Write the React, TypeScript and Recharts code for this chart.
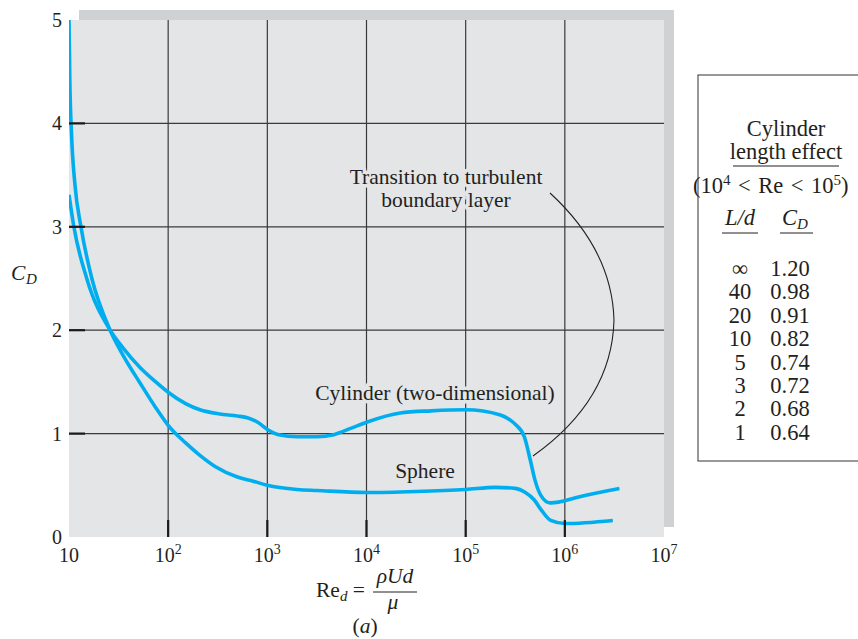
import React from 'react';
import { LineChart, Line, XAxis, YAxis, CartesianGrid, ReferenceLine } from 'recharts';

// ---- data (Re_d, C_D) ----
const sphereRe = [10, 10.2, 10.6, 11.5, 13.2, 17, 26, 35, 52, 75, 100, 150, 209, 300, 500, 720, 1000, 2000, 3160, 10000, 31600, 100000, 200000, 316000, 400000, 490000, 580000, 720000, 1000000, 3050000];
const sphereCd = [5.0, 4.4, 3.9, 3.4, 3.0, 2.5, 2.0, 1.76, 1.49, 1.25, 1.08, 0.91, 0.79, 0.68, 0.58, 0.54, 0.5, 0.46, 0.45, 0.43, 0.44, 0.46, 0.48, 0.47, 0.43, 0.36, 0.26, 0.16, 0.13, 0.16];

const cylRe = [10, 11.2, 15.1, 26, 35, 52, 75, 100, 150, 209, 331, 500, 640, 800, 1000, 1300, 2000, 3160, 4680, 6920, 10000, 21900, 44700, 100000, 224000, 282000, 316000, 390000, 447000, 500000, 575000, 708000, 890000, 1410000, 3550000];
const cylCd = [3.31, 3.0, 2.5, 2.0, 1.83, 1.64, 1.5, 1.4, 1.29, 1.23, 1.19, 1.17, 1.15, 1.11, 1.04, 0.99, 0.97, 0.97, 0.99, 1.05, 1.11, 1.2, 1.22, 1.23, 1.18, 1.13, 1.09, 0.97, 0.75, 0.55, 0.4, 0.33, 0.34, 0.39, 0.47];

const xTicks = [10, 100, 1000, 10000, 100000, 1000000, 10000000];
const yTicks = [0, 1, 2, 3, 4, 5];
const xGrid = [100, 1000, 10000, 100000, 1000000];
const yGrid = [1, 2, 3, 4];

const tableLd = ['∞', '40', '20', '10', '5', '3', '2', '1'];
const tableCd = ['1.20', '0.98', '0.91', '0.82', '0.74', '0.72', '0.68', '0.64'];

const sphereData = sphereRe.map((re, i) => ({ re, cd: sphereCd[i] }));
const cylData = cylRe.map((re, i) => ({ re, cd: cylCd[i] }));

const SERIF = '"Liberation Serif", "DejaVu Serif", serif';
const INK = '#231f20';
const BG = '#e4e5e7';
const CURVE = '#00aeef';

const XTick = (props: any) => {
  const { x, y, payload } = props;
  const v = payload.value as number;
  const exp = Math.round(Math.log10(v));
  const inner = v > 10 && v < 10000000;
  return (
    <g>
      {inner && <line x1={x} x2={x} y1={y} y2={y - 17} stroke="#1a1a1a" strokeWidth={2.2} />}
      <text x={x} y={y + 25} textAnchor="middle" fontFamily={SERIF} fontSize={20} fill={INK}>
        <tspan>10</tspan>
        {exp > 1 && <tspan dy={-8} fontSize={14}>{String(exp)}</tspan>}
      </text>
    </g>
  );
};

const YTick = (props: any) => {
  const { x, y, payload } = props;
  const v = payload.value as number;
  const inner = v > 0 && v < 5;
  return (
    <g>
      {inner && <line x1={x} x2={x + 16} y1={y} y2={y} stroke="#1a1a1a" strokeWidth={2.2} />}
      <text x={x - 7} y={y + 7} textAnchor="end" fontFamily={SERIF} fontSize={20} fill={INK}>
        {String(v)}
      </text>
    </g>
  );
};

const halo = { stroke: BG, strokeWidth: 7, paintOrder: 'stroke' as any, strokeLinejoin: 'round' as any };

const ROW0 = 276;
const ROWSTEP = 23.4;
const SP = '\u2004';

export default function App() {
  return (
    <div style={{ position: 'absolute', left: 0, top: 0, width: 858, height: 639, background: '#fff', overflow: 'hidden' }}>
      <div style={{ position: 'absolute', left: 79, top: 10, width: 595, height: 517, background: '#d0d1d3' }} />
      <div style={{ position: 'absolute', left: 0, top: 0 }}>
        <LineChart width={858} height={639} margin={{ top: 20, right: 194, bottom: 72, left: 9 }}>
          <CartesianGrid fill={BG} vertical={false} horizontal={false} stroke="none" />
          <XAxis
            type="number"
            dataKey="re"
            scale="log"
            domain={[10, 10000000]}
            ticks={xTicks}
            allowDataOverflow
            height={30}
            tickSize={0}
            tickMargin={0}
            axisLine={false}
            tickLine={false}
            tick={(p: any) => <XTick {...p} />}
            interval={0}
          />
          <YAxis
            type="number"
            dataKey="cd"
            domain={[0, 5]}
            ticks={yTicks}
            width={60}
            tickSize={0}
            tickMargin={0}
            axisLine={false}
            tickLine={false}
            tick={(p: any) => <YTick {...p} />}
            interval={0}
          />
          {xGrid.map((v) => (
            <ReferenceLine key={'x' + v} x={v} stroke="#3a3a3a" strokeWidth={1.2} />
          ))}
          {yGrid.map((v) => (
            <ReferenceLine key={'y' + v} y={v} stroke="#3a3a3a" strokeWidth={1.2} />
          ))}
          <Line data={cylData} dataKey="cd" type="monotone" stroke={CURVE} strokeWidth={3.6} dot={false} isAnimationActive={false} />
          <Line data={sphereData} dataKey="cd" type="monotone" stroke={CURVE} strokeWidth={3.6} dot={false} isAnimationActive={false} />
        </LineChart>
      </div>
      <svg width={858} height={639} style={{ position: 'absolute', left: 0, top: 0, pointerEvents: 'none' }}>
        <g fontFamily={SERIF} fill={INK} fontSize={21.5}>
          {/* annotations */}
          <text x={446} y={184} textAnchor="middle" {...halo}>Transition to turbulent</text>
          <text x={446} y={207} textAnchor="middle" {...halo}>boundary layer</text>
          <text x={435} y={400} textAnchor="middle" {...halo}>Cylinder (two-dimensional)</text>
          <text x={425} y={478} textAnchor="middle" {...halo}>Sphere</text>
          <path d="M550,193 Q612,250 614,320 Q612,400 533,456" fill="none" stroke="#222" strokeWidth={1.1} />

          {/* y label */}
          <text x={11} y={280} fontStyle="italic">C</text>
          <text x={26} y={284} fontStyle="italic" fontSize={15}>D</text>

          {/* x label */}
          <text x={316} y={597}>
            Re<tspan fontStyle="italic" fontSize={15} dy={4}>d</tspan>
            <tspan dy={-4}>{' ='}</tspan>
          </text>
          <text x={395} y={583} textAnchor="middle" fontStyle="italic">ρUd</text>
          <line x1={373} x2={417} y1={592} y2={592} stroke={INK} strokeWidth={1} />
          <text x={393} y={609} textAnchor="middle" fontStyle="italic">μ</text>
          <text x={365} y={633} textAnchor="middle">(<tspan fontStyle="italic">a</tspan>)</text>
        </g>

        {/* table */}
        <g fontFamily={SERIF} fill={INK} fontSize={22.5}>
          <rect x={698} y={75} width={180} height={386} fill="#fff" stroke="#333" strokeWidth={1} />
          <text x={786} y={136} textAnchor="middle">Cylinder</text>
          <text x={786} y={159} textAnchor="middle">length effect</text>
          <line x1={733} x2={839} y1={166} y2={166} stroke={INK} strokeWidth={1} />
          <text x={693} y={193}>
            (10<tspan dy={-8} fontSize={15}>4</tspan>
            <tspan dy={8}>{SP + '<' + SP + 'Re' + SP + '<' + SP + '10'}</tspan>
            <tspan dy={-8} fontSize={15}>5</tspan>
            <tspan dy={8}>)</tspan>
          </text>
          <text x={740} y={225} textAnchor="middle" fontStyle="italic">L/d</text>
          <line x1={722} x2={758} y1={233} y2={233} stroke={INK} strokeWidth={1} />
          <text x={795} y={225} textAnchor="middle" fontStyle="italic">
            C<tspan dy={4} fontSize={15}>D</tspan>
          </text>
          <line x1={780} x2={813} y1={233} y2={233} stroke={INK} strokeWidth={1} />
          {tableLd.map((ld, i) => (
            <text key={'ld' + i} x={740} y={ROW0 + i * ROWSTEP} textAnchor="middle">{ld}</text>
          ))}
          {tableCd.map((cd, i) => (
            <text key={'cd' + i} x={790} y={ROW0 + i * ROWSTEP} textAnchor="middle">{cd}</text>
          ))}
        </g>
      </svg>
    </div>
  );
}
